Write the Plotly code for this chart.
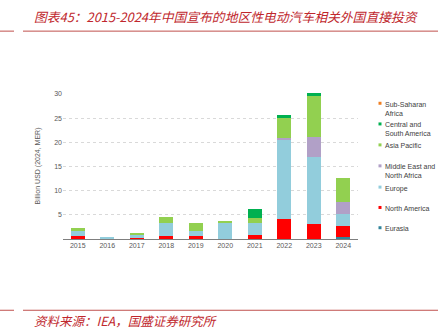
import plotly.graph_objects as go

years = ["2015", "2016", "2017", "2018", "2019", "2020", "2021", "2022", "2023", "2024"]
eurasia = [0, 0, 0, 0, 0, 0.05, 0, 0, 0, 0.4]
north_america = [0.7, 0, 0.3, 0.7, 0.6, 0, 0.75, 4.2, 3.15, 2.3]
europe = [0.9, 0.45, 0.6, 2.6, 1.1, 3.4, 2.6, 16.3, 13.75, 2.5]
mena = [0, 0, 0, 0, 0, 0, 0, 0.4, 4.2, 2.5]
asia_pacific = [0.7, 0, 0.3, 1.3, 1.6, 0.1, 1.0, 4.1, 8.6, 4.9]
central_south_america = [0, 0, 0, 0, 0, 0, 1.8, 0.6, 0.4, 0]
sub_saharan_africa = [0, 0, 0, 0, 0, 0, 0, 0, 0, 0]
y_ticks = [5, 10, 15, 20, 25, 30]

series = [
    ("Eurasia", eurasia, "#31849B"),
    ("North America", north_america, "#FF0000"),
    ("Europe", europe, "#92CDDC"),
    ("Middle East and<br>North Africa", mena, "#B1A0C7"),
    ("Asia Pacific", asia_pacific, "#92D050"),
    ("Central and<br>South America", central_south_america, "#00B050"),
    ("Sub-Saharan<br>Africa", sub_saharan_africa, "#F07F22"),
]

# plot-area geometry (pixels)
L, R, T, B = 63, 358, 93, 239.3
PW, PH = R - L, B - T

def px_x(x):
    return (x - L) / PW

def px_y(y):
    return (B - y) / PH

fig = go.Figure()
for name, vals, col in series:
    fig.add_trace(go.Bar(x=years, y=vals, name=name.replace("<br>", " "),
                         marker=dict(color=col, line=dict(width=0)), width=0.49, showlegend=False))

red = "#C0272D"
fig.update_layout(
    width=438, height=329,
    margin=dict(l=L, r=438 - R, t=T, b=329 - B),
    barmode="stack",
    plot_bgcolor="white", paper_bgcolor="white",
    font=dict(family="Liberation Sans, Arial, sans-serif", size=7, color="#595959"),
    showlegend=False,
    xaxis=dict(showline=True, linecolor="#7F7F7F", linewidth=1, ticks="",
               tickfont=dict(size=7, color="#595959"), showgrid=False),
    yaxis=dict(range=[0, 30.2], tickvals=y_ticks, showgrid=True, gridcolor="#D9D9D9",
               griddash="dot", zeroline=False, showline=False, ticks="",
               tickfont=dict(size=7, color="#595959"),
               title=dict(text="Billion USD (2024, MER)", font=dict(size=7, color="#595959"), standoff=12)),
)

# custom legend (top entry first)
legend_y = [103.3, 124, 145, 166, 187.3, 207.7, 228]
for (name, vals, col), yy in zip(reversed(series), legend_y):
    fig.add_shape(type="rect", xref="paper", yref="paper",
                  x0=px_x(378.5), x1=px_x(381.5), y0=px_y(yy + 1.5), y1=px_y(yy - 1.5),
                  fillcolor=col, line=dict(width=0))
    fig.add_annotation(xref="paper", yref="paper", x=px_x(383), y=px_y(yy - 4.6),
                       xanchor="left", yanchor="top", align="left", showarrow=False,
                       text=name, font=dict(size=7, color="#404040"))

fig.add_annotation(xref="paper", yref="paper", x=px_x(32), y=px_y(16),
                   xanchor="left", yanchor="middle", showarrow=False,
                   text="<i>图表45：2015-2024年中国宣布的地区性电动汽车相关外国直接投资</i>",
                   font=dict(family="Noto Sans CJK SC", size=12.8, color=red))
fig.add_annotation(xref="paper", yref="paper", x=px_x(32), y=px_y(321),
                   xanchor="left", yanchor="middle", showarrow=False,
                   text="<i>资料来源：IEA，国盛证券研究所</i>",
                   font=dict(family="Noto Sans CJK SC", size=12.5, color=red))

for yp in [31, 310.7]:
    yy = px_y(yp)
    fig.add_shape(type="line", xref="paper", yref="paper", x0=px_x(0), x1=px_x(14), y0=yy, y1=yy,
                  line=dict(color="#C0504D", width=1))
    fig.add_shape(type="line", xref="paper", yref="paper", x0=px_x(23), x1=px_x(438), y0=yy, y1=yy,
                  line=dict(color="#C0504D", width=1))

fig.write_html("out.html")
